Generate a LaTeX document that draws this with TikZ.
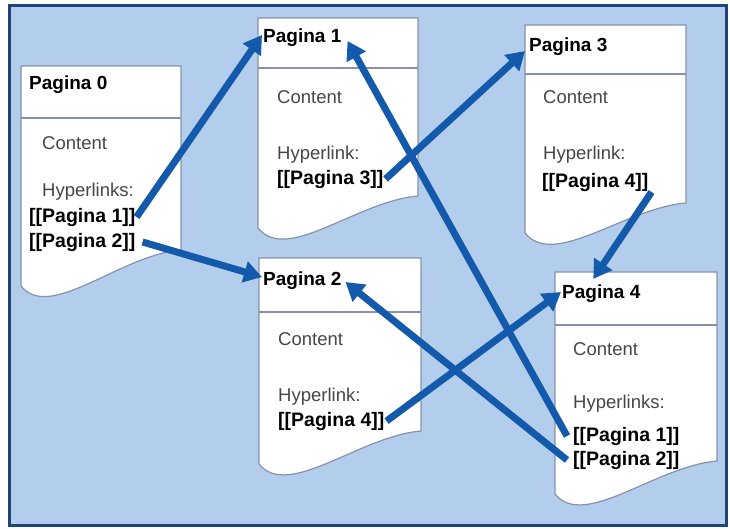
\documentclass[tikz,border=0pt]{standalone}
\usepackage{fontspec}
\setmainfont{Liberation Sans}
\usetikzlibrary{arrows.meta,calc}
\definecolor{bgblue}{RGB}{178,206,236}
\definecolor{frameblue}{RGB}{28,68,118}
\definecolor{arrowblue}{RGB}{20,90,172}
\definecolor{pageline}{RGB}{135,145,172}
\definecolor{txtgray}{RGB}{70,70,70}
\newcommand\pageshp[6]{%
  \draw[pagebox] (#1,#3) -- (#2,#3) -- (#2,#5)
    .. controls ({#2-61},{#5+5}) and ({#1+29},{#6+36}) .. (#1,#6) -- cycle;
  \draw[sepline] (#1,#4) -- (#2,#4);}
\begin{document}
\begin{tikzpicture}[x=1pt,y=-1pt,
  pagebox/.style={draw=pageline,line width=1.2pt,fill=white},
  sepline/.style={draw=pageline,line width=1.2pt},
  ttl/.style={anchor=west,inner sep=0pt,font=\fontsize{19}{22}\selectfont\bfseries},
  txt/.style={anchor=west,inner sep=0pt,font=\fontsize{18.5}{22}\selectfont,text=txtgray},
  lnk/.style={anchor=west,inner sep=0pt,font=\fontsize{19.5}{22}\selectfont\bfseries},
  link/.style={draw=arrowblue,line width=7pt,-{Triangle[length=18pt,width=21pt]}}]
\useasboundingbox (0,0) rectangle (730,528);
\fill[white] (0,0) rectangle (730,528);
\draw[frameblue,line width=3pt,fill=bgblue] (9,5) rectangle (726,525);
% pages
\pageshp{21}{181}{66}{118}{250}{286}
\pageshp{258}{418}{18}{68}{196}{228}
\pageshp{525}{686}{25}{74}{203}{233}
\pageshp{259}{421}{258}{312}{431}{464}
\pageshp{555}{717}{272}{325}{461}{494}
% page 0
\node[ttl] (p0t) at (29,85) {Pagina 0};
\node[txt] (p0c) at (42,143) {Content};
\node[txt] (p0h) at (42,192) {Hyperlinks:};
\node[lnk] (p0a) at (29,217) {[[Pagina 1]]};
\node[lnk] (p0b) at (29,242) {[[Pagina 2]]};
% page 1
\node[ttl] (p1t) at (263,38) {Pagina 1};
\node[txt] (p1c) at (277,97) {Content};
\node[txt] (p1h) at (277,155) {Hyperlink:};
\node[lnk] (p1l) at (277,179) {[[Pagina 3]]};
% page 3
\node[ttl] (p3t) at (529,47) {Pagina 3};
\node[txt] (p3c) at (543,97) {Content};
\node[txt] (p3h) at (543,155) {Hyperlink:};
\node[lnk] (p3l) at (542,182) {[[Pagina 4]]};
% page 2
\node[ttl] (p2t) at (263,281) {Pagina 2};
\node[txt] (p2c) at (278,339) {Content};
\node[txt] (p2h) at (278,397) {Hyperlink:};
\node[lnk] (p2l) at (278,421) {[[Pagina 4]]};
% page 4
\node[ttl] (p4t) at (562,294) {Pagina 4};
\node[txt] (p4c) at (573,349) {Content};
\node[txt] (p4h) at (573,404) {Hyperlinks:};
\node[lnk] (p4a) at (573,436) {[[Pagina 1]]};
\node[lnk] (p4b) at (573,460) {[[Pagina 2]]};
% links
\draw[link] ($(p0a.east)+(1,0)$) -- ($(p1t.west)+(-1,-3)$);
\draw[link] ($(p0b.east)+(7,0)$) -- ($(p2t.west)+(-1,-4)$);
\draw[link] ($(p1l.east)+(2,0)$) -- ($(p3t.west)+(-4,4)$);
\draw[link] ($(p3l.east)+(3,10)$) -- ($(p4t.north)+(-8,-6)$);
\draw[link] ($(p2l.east)+(2,0)$) -- ($(p4t.west)+(-1,-2)$);
\draw[link] ($(p4a.west)+(-6,0)$) -- ($(p1t.east)+(6,3)$);
\draw[link] ($(p4b.west)+(-6,0)$) -- ($(p2t.east)+(4,1)$);
\end{tikzpicture}
\end{document}
